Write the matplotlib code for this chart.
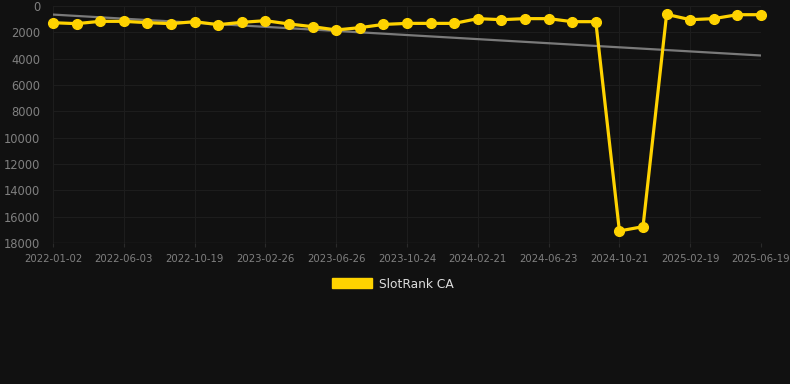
import matplotlib
matplotlib.use("Agg")
import matplotlib.pyplot as plt
from matplotlib.patches import Patch
import numpy as np

tick_labels = ["2022-01-02", "2022-06-03", "2022-10-19", "2023-02-26", "2023-06-26",
               "2023-10-24", "2024-02-21", "2024-06-23", "2024-10-21", "2025-02-19",
               "2025-06-19"]
ranks = [1270, 1340, 1165, 1165, 1265, 1340, 1190, 1420, 1240, 1115,
         1365, 1570, 1820, 1645, 1400, 1320, 1320, 1320, 960, 1040,
         960, 960, 1190, 1190, 17085, 16760, 635, 1040, 960, 660,
         660]
series_name = "SlotRank CA"

bg = "#111111"
fig = plt.figure(figsize=(7.9, 3.84), dpi=100, facecolor=bg)
ax = fig.add_axes([53/790, 1-243/384, (761-53)/790, (243-6)/384])
ax.set_facecolor(bg)

x = np.arange(len(ranks))
coef = np.polyfit(x, ranks, 1)
trend = np.polyval(coef, x)
ax.plot(x, trend, color="#7a7a7a", lw=1.6, zorder=2)
ax.plot(x, ranks, color="#FFD300", lw=2.3, marker="o", markersize=7, zorder=3, clip_on=False)

ax.set_xlim(0, len(ranks) - 1)
ax.set_ylim(18000, 0)
ax.set_yticks(np.arange(0, 18001, 2000))
ax.set_xticks(x[::3])
ax.set_xticklabels(tick_labels)
ax.grid(True, color="#1d1d1d", lw=0.8)
ax.set_axisbelow(True)
for s in ax.spines.values():
    s.set_visible(False)
ax.tick_params(axis="y", colors="#808080", labelsize=8.3, length=0, pad=9)
ax.tick_params(axis="x", colors="#2a2a2a", labelcolor="#808080", labelsize=7.3, length=3, pad=5)
ax.axhline(18000, color="#2a2a2a", lw=1, zorder=1)

fig.legend(handles=[Patch(facecolor="#FFD300", edgecolor="#FFD300")], labels=[series_name],
           loc="center", bbox_to_anchor=(393/790, 1-284/384), frameon=False,
           handlelength=3.3, handleheight=0.9, handletextpad=0.6,
           labelcolor="#dddddd", fontsize=8.8)

fig.savefig("out.png", dpi=100, facecolor=bg)
